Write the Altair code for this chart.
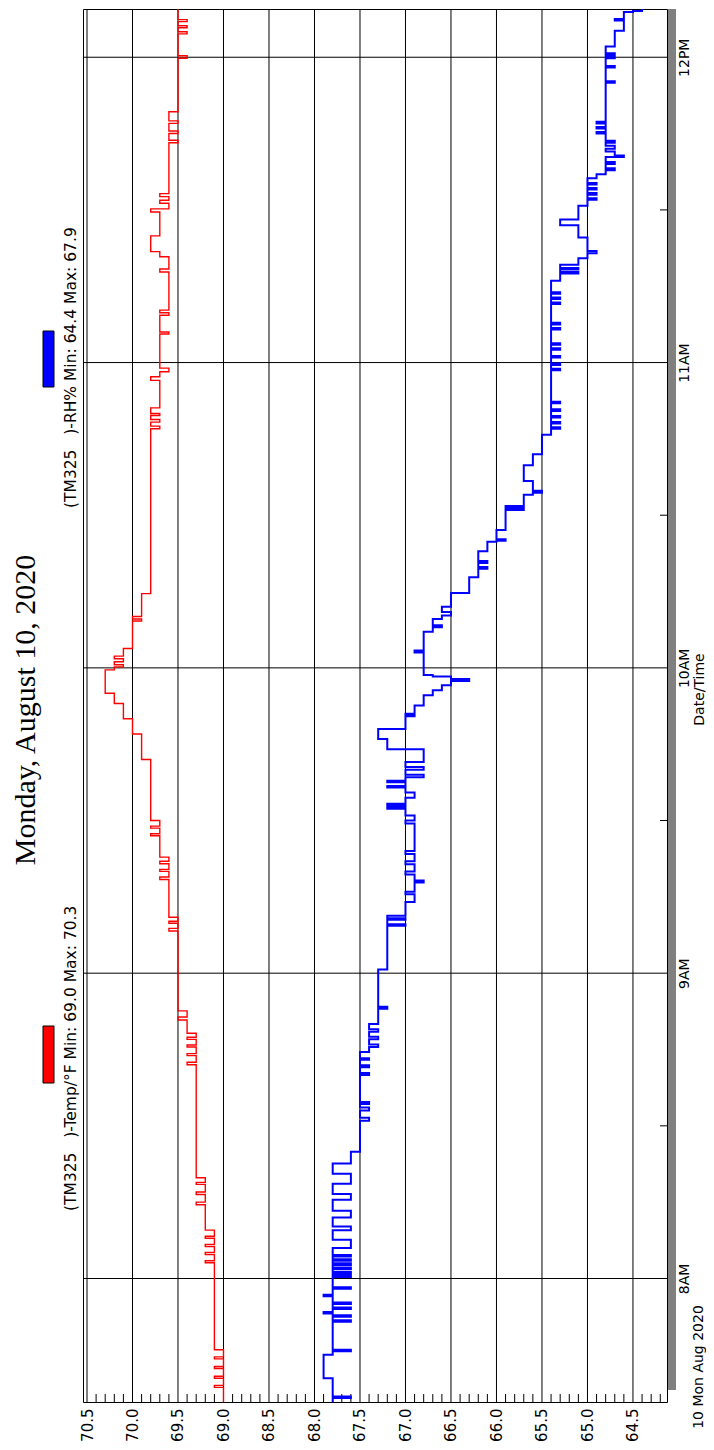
import altair as alt
import pandas as pd

# ---- data (minutes after 8:00 AM at which the reading changes, new reading) ----
temp_min = [-24.3,
            -21.4, -21.0, -19.6, -19.2, -17.7, -17.3, -15.8, -15.4, -14.0,
            3.1, 3.5, 4.7, 5.1, 6.3, 6.7, 7.9, 8.3, 9.5,
            14.5, 15.0, 16.5, 17.0, 18.5, 18.9, 19.8,
            42.0, 42.5, 43.8, 44.2, 45.5, 45.9, 47.0, 47.4, 48.2,
            50.8, 51.4, 52.6,
            68.3, 68.8, 69.8, 70.2, 71.0,
            78.4, 78.9, 80.0, 80.4, 81.5, 82.0, 82.8,
            87.0, 87.4, 88.5, 88.9, 90.0,
            102.0, 107.0, 110.0, 113.0, 115.0,
            119.6, 120.2, 120.6, 121.2, 121.8, 122.3,
            123.8, 129.2, 129.6, 130.1, 134.6,
            167.0, 167.5, 168.3, 168.8, 169.6, 170.0,
            171.1, 176.5, 177.2, 178.2, 178.9, 185.6, 186.0, 189.3, 189.8, 190.3,
            197.8, 198.4, 200.8, 201.8, 204.9, 209.6, 210.2, 211.3, 211.9, 212.6, 213.2,
            223.2, 223.7, 225.0, 225.5, 227.0, 227.5, 229.3,
            239.8, 240.3, 244.6, 245.0, 245.8, 246.2, 247.0, 247.4, 249.5]
temp_val = [69.0,
            69.1, 69.0, 69.1, 69.0, 69.1, 69.0, 69.1, 69.0, 69.1,
            69.2, 69.1, 69.2, 69.1, 69.2, 69.1, 69.2, 69.1, 69.2,
            69.3, 69.2, 69.3, 69.2, 69.3, 69.2, 69.3,
            69.4, 69.3, 69.4, 69.3, 69.4, 69.3, 69.4, 69.3, 69.4,
            69.5, 69.4, 69.5,
            69.6, 69.5, 69.6, 69.5, 69.6,
            69.7, 69.6, 69.7, 69.6, 69.7, 69.6, 69.7,
            69.8, 69.7, 69.8, 69.7, 69.8,
            69.9, 70.0, 70.1, 70.2, 70.3,
            70.2, 70.1, 70.2, 70.1, 70.2, 70.1,
            70.0, 69.9, 70.0, 69.9, 69.8,
            69.7, 69.8, 69.7, 69.8, 69.7, 69.8,
            69.7, 69.8, 69.7, 69.6, 69.7, 69.6, 69.7, 69.6, 69.7, 69.6,
            69.7, 69.6, 69.7, 69.8, 69.7, 69.8, 69.6, 69.7, 69.6, 69.7, 69.6,
            69.5, 69.6, 69.5, 69.6, 69.5, 69.6, 69.5,
            69.4, 69.5, 69.4, 69.5, 69.4, 69.5, 69.4, 69.5, 69.5]

rh_min = [-24.3, -23.5, -23.2, -19.6, -15.0, -14.3, -14.0,
          -8.5, -8.2, -7.5, -7.2, -6.9, -6.6, -6.0, -5.7, -5.0, -4.7,
          -3.5, -3.2, -2.0, -1.7,
          0.3, 0.6, 1.0, 1.3, 1.8, 2.1, 2.6, 3.0, 3.5, 3.8, 4.3, 4.6,
          6.0, 7.6, 9.5, 10.2, 12.0, 13.3, 15.5, 16.6, 18.6, 20.6, 22.6, 24.9,
          31.0, 31.6, 33.0, 33.6, 34.3, 34.7,
          40.0, 40.4, 41.5, 41.9, 43.0, 43.3, 44.5,
          45.5, 46.0, 47.0, 47.5, 48.5, 49.0, 50.0,
          53.0, 53.4, 60.7,
          69.3, 69.6, 70.5, 70.8, 71.3,
          74.0, 75.5, 76.0, 77.8, 78.2, 79.4, 80.0, 81.4, 82.0, 83.4, 84.0,
          89.4, 90.0, 91.0, 92.3, 92.6, 93.0, 93.3, 94.5, 95.5, 96.5, 96.8, 97.5, 97.8,
          98.5, 99.0, 100.0, 100.5, 101.5,
          104.0, 106.0, 108.0, 110.5, 110.8, 111.0, 112.6, 114.6, 115.6, 116.6,
          117.4, 117.8, 118.3, 118.6,
          123.0, 123.4, 127.1, 128.0, 128.4, 129.6, 130.3, 131.0, 132.0,
          134.7, 137.8, 139.5, 139.8, 140.6, 141.0, 142.9, 144.8, 145.0, 145.3, 147.1,
          151.0, 151.4, 151.8, 154.0, 154.4, 154.8, 156.7, 159.8, 162.0, 165.8,
          167.0, 167.3, 168.0, 168.3, 169.2, 169.5, 170.5, 170.8, 172.0, 172.3,
          178.5, 178.8, 179.5, 179.8, 181.0, 181.3, 182.5, 182.8, 183.5, 183.8,
          186.5, 186.8, 187.5, 187.8, 191.5, 191.8, 192.5, 192.8, 193.5, 193.8,
          196.1, 197.5, 197.8, 198.3, 198.6, 199.2, 200.5, 201.5, 201.9, 204.6,
          207.0, 208.1, 210.8,
          212.0, 212.3, 213.0, 213.3, 214.0, 214.3, 215.0, 215.3, 216.2, 217.0,
          217.8, 218.2, 219.0, 219.4, 220.4, 220.7, 221.5, 222.0, 222.6, 223.2, 223.6,
          225.0, 225.3, 226.0, 226.3, 227.0, 227.3,
          235.0, 235.3, 238.0, 238.3, 239.8, 240.1, 240.5, 240.8,
          242.1, 245.2, 247.2, 247.5, 248.9, 249.1, 249.5]
rh_val = [67.8, 67.6, 67.8, 67.9, 67.8, 67.6, 67.8,
          67.6, 67.8, 67.6, 67.8, 67.9, 67.8, 67.6, 67.8, 67.6, 67.8,
          67.9, 67.8, 67.6, 67.8,
          67.6, 67.8, 67.6, 67.8, 67.6, 67.8, 67.6, 67.8, 67.6, 67.8, 67.6, 67.8,
          67.6, 67.8, 67.6, 67.8, 67.6, 67.8, 67.6, 67.8, 67.6, 67.8, 67.6, 67.5,
          67.4, 67.5, 67.4, 67.5, 67.4, 67.5,
          67.4, 67.5, 67.4, 67.5, 67.4, 67.5, 67.4,
          67.3, 67.4, 67.3, 67.4, 67.3, 67.4, 67.3,
          67.2, 67.3, 67.2,
          67.0, 67.2, 67.0, 67.2, 67.0,
          66.9, 67.0, 66.9, 66.8, 66.9, 67.0, 66.9, 67.0, 66.9, 67.0, 66.9,
          67.0, 66.9, 67.0, 67.2, 67.0, 67.2, 67.0, 66.9, 67.0, 67.2, 67.0, 67.2, 67.0,
          66.8, 67.0, 66.8, 67.0, 66.8,
          67.2, 67.3, 67.0, 66.9, 67.0, 66.9, 66.8, 66.7, 66.6, 66.5,
          66.3, 66.5, 66.7, 66.8,
          66.9, 66.8, 66.7, 66.6, 66.7, 66.6, 66.5, 66.6, 66.5,
          66.3, 66.2, 66.1, 66.2, 66.1, 66.2, 66.1, 66.0, 65.9, 66.0, 65.9,
          65.7, 65.9, 65.7, 65.6, 65.5, 65.6, 65.7, 65.6, 65.5, 65.4,
          65.3, 65.4, 65.3, 65.4, 65.3, 65.4, 65.3, 65.4, 65.3, 65.4,
          65.3, 65.4, 65.3, 65.4, 65.3, 65.4, 65.3, 65.4, 65.3, 65.4,
          65.3, 65.4, 65.3, 65.4, 65.3, 65.4, 65.3, 65.4, 65.3, 65.4,
          65.3, 65.1, 65.3, 65.1, 65.3, 65.1, 65.0, 64.9, 65.0, 65.1,
          65.3, 65.1, 65.0,
          64.9, 65.0, 64.9, 65.0, 64.9, 65.0, 64.9, 65.0, 64.9, 64.8,
          64.7, 64.8, 64.7, 64.8, 64.6, 64.7, 64.8, 64.7, 64.8, 64.7, 64.8,
          64.9, 64.8, 64.9, 64.8, 64.9, 64.8,
          64.7, 64.8, 64.7, 64.8, 64.7, 64.8, 64.7, 64.8,
          64.7, 64.6, 64.7, 64.6, 64.5, 64.4, 64.4]

value_ticks = [70.5, 70.0, 69.5, 69.0, 68.5, 68.0, 67.5, 67.0, 66.5, 66.0, 65.5, 65.0, 64.5]
minor_values = [70.4, 70.3, 70.2, 70.1, 69.9, 69.8, 69.7, 69.6, 69.4, 69.3, 69.2, 69.1,
                68.9, 68.8, 68.7, 68.6, 68.4, 68.3, 68.2, 68.1, 67.9, 67.8, 67.7, 67.6,
                67.4, 67.3, 67.2, 67.1, 66.9, 66.8, 66.7, 66.6, 66.4, 66.3, 66.2, 66.1,
                65.9, 65.8, 65.7, 65.6, 65.4, 65.3, 65.2, 65.1, 64.9, 64.8, 64.7, 64.6,
                64.4, 64.3, 64.2]
hour_ticks = [8, 9, 10, 11, 12]
half_hours = [8.5, 9.5, 10.5, 11.5]

NB = "\u00a0"
title_text = "Monday, August 10, 2020"
legend_temp = "(TM325" + NB * 3 + ")-Temp/°F Min: 69.0 Max: 70.3"
legend_rh = "(TM325" + NB * 3 + ")-RH% Min: 64.4 Max: 67.9"
date_text = "10 Mon Aug 2020"

# ---- frames ----
temp_df = pd.DataFrame({"i": range(len(temp_min)),
                        "h": [8 + m / 60 for m in temp_min], "v": temp_val})
rh_df = pd.DataFrame({"i": range(len(rh_min)),
                      "h": [8 + m / 60 for m in rh_min], "v": rh_val})
grid_v = pd.DataFrame({"v": value_ticks})
minor_v = pd.DataFrame({"v": minor_values})
grid_h = pd.DataFrame({"h": hour_ticks})
half_h = pd.DataFrame({"h": half_hours})
one = pd.DataFrame({"k": [0]})

W, H = 584, 1393
FONT = "DejaVu Sans"

xscale = alt.Scale(domain=[64.126, 70.544], reverse=True, nice=False, zero=False)
yscale = alt.Scale(domain=[7.5955, 12.158], nice=False, zero=False)

xaxis = alt.Axis(values=value_ticks, format=".1f", labelAngle=270, labelAlign="right",
                 labelBaseline="middle", ticks=False, domain=False, grid=False,
                 labelPadding=6, labelFont=FONT, labelFontSize=15, labelColor="black",
                 labelOverlap=False, labelFlush=False, title=None, orient="bottom")
yaxis = alt.Axis(values=hour_ticks, orient="right",
                 labelExpr="datum.value == 12 ? '12PM' : datum.value + 'AM'",
                 labelAngle=270, labelAlign="center", labelBaseline="middle",
                 ticks=False, domain=False, grid=False, labelPadding=17,
                 labelFont=FONT, labelFontSize=14, labelColor="black",
                 labelOverlap=False, labelFlush=False,
                 title="Date/Time", titleAngle=270, titleAlign="center",
                 titleBaseline="middle", titleX=32, titleY=680, titleFont=FONT,
                 titleFontSize=14, titleFontWeight="normal", titleColor="black")


def X():
    return alt.X("v:Q", scale=xscale, axis=xaxis)


def Y():
    return alt.Y("h:Q", scale=yscale, axis=yaxis)


vgrid = alt.Chart(grid_v).mark_rule(color="black", strokeWidth=1).encode(x=X())
hgrid = alt.Chart(grid_h).mark_rule(color="black", strokeWidth=1).encode(y=Y())
vminor = alt.Chart(minor_v).mark_rule(color="black", strokeWidth=1).encode(
    x=X(), y=alt.value(H - 8), y2=alt.value(H))
hminor = alt.Chart(half_h).mark_rule(color="black", strokeWidth=1).encode(
    y=Y(), x=alt.value(W - 7), x2=alt.value(W))
shadow = alt.Chart(one).mark_rect(color="#808080").encode(
    x=alt.value(W + 1), x2=alt.value(W + 9), y=alt.value(0), y2=alt.value(H - 12))

temp_line = alt.Chart(temp_df).mark_line(
    interpolate="step-before", color="#ff0000", strokeWidth=1.4).encode(
    x=X(), y=Y(), order="i:Q")
rh_line = alt.Chart(rh_df).mark_line(
    interpolate="step-before", color="#0000ff", strokeWidth=2).encode(
    x=X(), y=Y(), order="i:Q")

title = alt.Chart(one).mark_text(
    text=title_text, angle=270, font="Liberation Serif", fontSize=30,
    align="center", baseline="alphabetic", color="black").encode(
    x=alt.value(-48), y=alt.value(701))
leg1 = alt.Chart(one).mark_text(
    text=legend_temp, angle=270, font=FONT, fontSize=15.5,
    align="left", baseline="alphabetic", color="black").encode(
    x=alt.value(-7), y=alt.value(1202))
leg2 = alt.Chart(one).mark_text(
    text=legend_rh, angle=270, font=FONT, fontSize=15.5,
    align="left", baseline="alphabetic", color="black").encode(
    x=alt.value(-7), y=alt.value(499))
box1 = alt.Chart(one).mark_rect(color="#ff0000", stroke="black", strokeWidth=1).encode(
    x=alt.value(-40), x2=alt.value(-29), y=alt.value(1017), y2=alt.value(1074))
box2 = alt.Chart(one).mark_rect(color="#0000ff", stroke="black", strokeWidth=1).encode(
    x=alt.value(-40), x2=alt.value(-29), y=alt.value(322), y2=alt.value(378))
datelab = alt.Chart(one).mark_text(
    text=date_text, angle=270, font=FONT, fontSize=14,
    align="center", baseline="middle", color="black").encode(
    x=alt.value(616), y=alt.value(1358))

chart = alt.layer(
    shadow, vgrid, hgrid, vminor, hminor, temp_line, rh_line,
    title, leg1, leg2, box1, box2, datelab
).properties(
    width=W, height=H,
    autosize=alt.AutoSizeParams(type="none"),
    padding={"left": 75, "top": 1, "right": 39, "bottom": 40},
    background="white",
).configure_view(stroke="black", strokeWidth=1)

chart.save("out.html", embed_options={"renderer": "svg", "actions": False})
